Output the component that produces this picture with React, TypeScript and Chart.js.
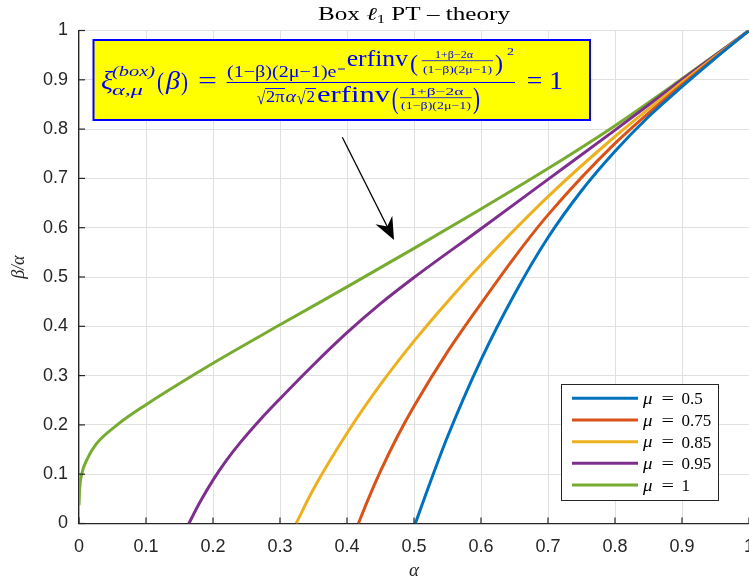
import React, { useEffect, useRef } from "react";
import { Chart, registerables } from "chart.js";

Chart.register(...registerables);

// ---------- data ----------
const seriesLabels = ["μ = 0.5", "μ = 0.75", "μ = 0.85", "μ = 0.95", "μ = 1"];
const seriesColors = ["#0072BD", "#D95319", "#EDB120", "#7E2F8E", "#77AC30"];

const alphaMu050 = [0.502, 0.52, 0.55, 0.6, 0.65, 0.7, 0.75, 0.8, 0.85, 0.9, 0.95, 1.0];
const ratioMu050 = [0, 0.068, 0.176, 0.332, 0.465, 0.58, 0.675, 0.755, 0.825, 0.886, 0.944, 1.0];

const alphaMu075 = [0.417, 0.43, 0.45, 0.475, 0.5, 0.55, 0.6, 0.65, 0.7, 0.8, 0.9, 1.0];
const ratioMu075 = [0, 0.044, 0.106, 0.176, 0.238, 0.348, 0.446, 0.54, 0.626, 0.771, 0.89, 1.0];

const alphaMu085 = [0.324, 0.35, 0.4, 0.45, 0.5, 0.55, 0.6, 0.7, 0.8, 0.9, 1.0];
const ratioMu085 = [0, 0.07, 0.183, 0.282, 0.37, 0.45, 0.525, 0.663, 0.785, 0.895, 1.0];

const alphaMu095 = [0.164, 0.18, 0.2, 0.22, 0.24, 0.27, 0.3, 0.35, 0.4, 0.45, 0.5, 0.6, 0.7, 0.8, 0.9, 1.0];
const ratioMu095 = [0, 0.042, 0.088, 0.128, 0.163, 0.21, 0.253, 0.322, 0.387, 0.446, 0.499, 0.598, 0.698, 0.798, 0.9, 1.0];

const alphaMu100 = [0, 0.001, 0.004, 0.012, 0.025, 0.057, 0.1, 0.15, 0.2, 0.3, 0.4, 0.5, 0.6, 0.7, 0.8, 0.9, 1.0];
const ratioMu100 = [0.037, 0.07, 0.1, 0.13, 0.16, 0.2, 0.241, 0.284, 0.325, 0.403, 0.48, 0.558, 0.638, 0.72, 0.807, 0.902, 1.0];

const seriesAlpha = [alphaMu050, alphaMu075, alphaMu085, alphaMu095, alphaMu100];
const seriesRatio = [ratioMu050, ratioMu075, ratioMu085, ratioMu095, ratioMu100];

const tickValues = [0, 0.1, 0.2, 0.3, 0.4, 0.5, 0.6, 0.7, 0.8, 0.9, 1];

const titleText = ["Box ", "ℓ", "1", " PT – theory"];
const xLabel = "α";
const yLabel = "β/α";

const SERIF = '"Liberation Serif", "DejaVu Serif", serif';
const AX = "#262626";

function fitText(ctx: CanvasRenderingContext2D, text: string, x0: number, x1: number, baseline: number, font: string) {
  ctx.font = font;
  const w = ctx.measureText(text).width;
  const sx = w > 0 ? (x1 - x0) / w : 1;
  ctx.save();
  ctx.translate(x0, baseline);
  ctx.scale(sx, 1);
  ctx.textAlign = "left";
  ctx.textBaseline = "alphabetic";
  ctx.fillText(text, 0, 0);
  ctx.restore();
}

function hline(ctx: CanvasRenderingContext2D, x0: number, x1: number, y: number, w = 1) {
  ctx.beginPath();
  ctx.lineWidth = w;
  ctx.moveTo(x0, y);
  ctx.lineTo(x1, y);
  ctx.stroke();
}

const decorPlugin = {
  id: "decor",
  afterDraw(chart: any) {
    const ctx: CanvasRenderingContext2D = chart.ctx;
    const xs = chart.scales.x;
    const ys = chart.scales.y;
    const ca = chart.chartArea;
    ctx.save();

    // inner tick marks
    ctx.strokeStyle = AX;
    ctx.lineWidth = 1.2;
    tickValues.forEach((v) => {
      const px = xs.getPixelForValue(v);
      ctx.beginPath();
      ctx.moveTo(px, ca.bottom);
      ctx.lineTo(px, ca.bottom - 6);
      ctx.stroke();
      const py = ys.getPixelForValue(v);
      ctx.beginPath();
      ctx.moveTo(ca.left, py);
      ctx.lineTo(ca.left + 6, py);
      ctx.stroke();
    });

    // title
    ctx.fillStyle = "#000";
    ctx.textBaseline = "alphabetic";
    ctx.textAlign = "left";
    const tf = `18px ${SERIF}`;
    const tfi = `italic 18px ${SERIF}`;
    const tfs = `12px ${SERIF}`;
    ctx.font = tf;
    const w0 = ctx.measureText(titleText[0]).width;
    ctx.font = tfi;
    const w1 = ctx.measureText(titleText[1]).width;
    ctx.font = tfs;
    const w2 = ctx.measureText(titleText[2]).width;
    ctx.font = tf;
    const w3 = ctx.measureText(titleText[3]).width;
    const tot = w0 + w1 + w2 + w3;
    const target = 192;
    const s = target / tot;
    const cx = (ca.left + ca.right) / 2;
    ctx.save();
    ctx.translate(cx - target / 2, 19.5);
    ctx.scale(s, 1);
    ctx.font = tf;
    ctx.fillText(titleText[0], 0, 0);
    ctx.font = tfi;
    ctx.fillText(titleText[1], w0, 0);
    ctx.font = tfs;
    ctx.fillText(titleText[2], w0 + w1, 3);
    ctx.font = tf;
    ctx.fillText(titleText[3], w0 + w1 + w2, 0);
    ctx.restore();

    // axis labels
    ctx.fillStyle = AX;
    ctx.font = `italic 19px ${SERIF}`;
    ctx.textAlign = "center";
    ctx.fillText(xLabel, cx, 576);
    ctx.save();
    ctx.translate(24, ys.getPixelForValue(0.52));
    ctx.rotate(-Math.PI / 2);
    ctx.font = `italic 18px ${SERIF}`;
    ctx.fillText(yLabel, 0, 0);
    ctx.restore();

    // annotation box
    ctx.fillStyle = "#FFFF00";
    ctx.fillRect(93.5, 40, 496.5, 80);
    ctx.strokeStyle = "#0000FF";
    ctx.lineWidth = 2;
    ctx.strokeRect(93.5, 40, 496.5, 80);

    ctx.fillStyle = "#0000FF";
    ctx.strokeStyle = "#0000FF";
    fitText(ctx, "ξ", 101, 113, 89, `italic 26px ${SERIF}`);
    fitText(ctx, "(box)", 112, 155, 76, `italic 15px ${SERIF}`);
    fitText(ctx, "α,μ", 112, 143, 95, `italic 14px ${SERIF}`);
    fitText(ctx, "(", 157, 164, 90, `25px ${SERIF}`);
    fitText(ctx, "β", 166, 180, 89, `italic 25px ${SERIF}`);
    fitText(ctx, ")", 181, 188, 90, `25px ${SERIF}`);
    fitText(ctx, "=", 198, 217, 89, `25px ${SERIF}`);
    // main fraction
    hline(ctx, 226.7, 515, 82.5, 1.2);
    fitText(ctx, "(1−β)(2μ−1)e", 227, 336.5, 77, `16px ${SERIF}`);
    hline(ctx, 338, 345, 69, 1);
    fitText(ctx, "erfinv", 346.7, 408, 65.5, `24px ${SERIF}`);
    fitText(ctx, "(", 410, 418, 71, `24px ${SERIF}`);
    fitText(ctx, "1+β−2α", 435, 473, 58, `10px ${SERIF}`);
    hline(ctx, 421.7, 493, 60.7, 0.8);
    fitText(ctx, "(1−β)(2μ−1)", 423, 492, 72.5, `10px ${SERIF}`);
    fitText(ctx, ")", 495, 503, 71, `24px ${SERIF}`);
    fitText(ctx, "2", 507, 514, 55, `11px ${SERIF}`);
    // denominator
    fitText(ctx, "√", 256.7, 265.3, 104, `18px ${SERIF}`);
    hline(ctx, 265, 285, 88.5, 0.9);
    fitText(ctx, "2π", 266, 284.5, 102, `16px ${SERIF}`);
    fitText(ctx, "α", 285.5, 296, 102, `italic 16px ${SERIF}`);
    fitText(ctx, "√", 296.7, 305.5, 104, `18px ${SERIF}`);
    hline(ctx, 305.3, 316, 88.5, 0.9);
    fitText(ctx, "2", 306.5, 315, 102, `16px ${SERIF}`);
    fitText(ctx, "erfinv", 317, 390, 102, `24px ${SERIF}`);
    fitText(ctx, "(", 391.7, 398.5, 108, `29px ${SERIF}`);
    fitText(ctx, "1+β−2α", 408.3, 463.3, 95, `10px ${SERIF}`);
    hline(ctx, 400, 471.7, 97.7, 0.8);
    fitText(ctx, "(1−β)(2μ−1)", 401, 471, 108.5, `10px ${SERIF}`);
    fitText(ctx, ")", 473, 480, 108, `29px ${SERIF}`);
    fitText(ctx, "= 1", 526.7, 563, 89, `25px ${SERIF}`);

    // arrow
    const ax0 = 342.3, ay0 = 137.3, ax1 = 394, ay1 = 240;
    const len = Math.hypot(ax1 - ax0, ay1 - ay0);
    const dx = (ax1 - ax0) / len, dy = (ay1 - ay0) / len;
    const nx = -dy, ny = dx;
    ctx.strokeStyle = "#000";
    ctx.fillStyle = "#000";
    ctx.lineWidth = 1.3;
    ctx.beginPath();
    ctx.moveTo(ax0, ay0);
    ctx.lineTo(ax1 - dx * 14, ay1 - dy * 14);
    ctx.stroke();
    ctx.beginPath();
    ctx.moveTo(ax1, ay1);
    ctx.lineTo(ax1 - dx * 22.5 + nx * 9.4, ay1 - dy * 22.5 + ny * 9.4);
    ctx.lineTo(ax1 - dx * 15, ay1 - dy * 15);
    ctx.lineTo(ax1 - dx * 22.5 - nx * 9.4, ay1 - dy * 22.5 - ny * 9.4);
    ctx.closePath();
    ctx.fill();

    // legend
    const lx0 = 561, ly0 = 384, lx1 = 718, ly1 = 500;
    ctx.fillStyle = "#fff";
    ctx.fillRect(lx0, ly0, lx1 - lx0, ly1 - ly0);
    ctx.strokeStyle = AX;
    ctx.lineWidth = 1;
    ctx.strokeRect(lx0 + 0.5, ly0 + 0.5, lx1 - lx0, ly1 - ly0);
    const rowY = [398.3, 420, 441.7, 463.3, 485];
    chart.data.datasets.forEach((ds: any, i: number) => {
      const y = rowY[i];
      ctx.strokeStyle = ds.borderColor;
      ctx.lineWidth = 3;
      ctx.beginPath();
      ctx.moveTo(572, y);
      ctx.lineTo(638, y);
      ctx.stroke();
      const parts = String(ds.label).split("=");
      ctx.fillStyle = "#000";
      ctx.textAlign = "left";
      fitText(ctx, parts[0].trim(), 643, 652.5, y + 5.5, `italic 17px ${SERIF}`);
      fitText(ctx, "=", 661.5, 674, y + 5.5, `17px ${SERIF}`);
      ctx.font = `17px ${SERIF}`;
      ctx.fillText(parts[1].trim(), 681.5, y + 6);
    });

    ctx.restore();
  },
};

export default function App() {
  const canvasRef = useRef<HTMLCanvasElement | null>(null);

  useEffect(() => {
    const canvas = canvasRef.current;
    if (!canvas) return;
    const datasets = seriesLabels.map((label, i) => ({
      label,
      data: seriesAlpha[i].map((a, j) => ({ x: a, y: seriesRatio[i][j] })),
      borderColor: seriesColors[i],
      backgroundColor: seriesColors[i],
      borderWidth: 3,
      pointRadius: 0,
      fill: false,
      cubicInterpolationMode: "monotone" as const,
    }));
    const tickFont = { family: '"Liberation Sans", Arial, sans-serif', size: 18 };
    const chart = new Chart(canvas, {
      type: "line",
      data: { datasets },
      options: {
        animation: false,
        responsive: false,
        devicePixelRatio: 1,
        layout: { padding: { top: 30.5, left: 0, right: 0, bottom: 0 }, autoPadding: false } as any,
        plugins: { legend: { display: false }, title: { display: false }, tooltip: { enabled: false } },
        scales: {
          x: {
            type: "linear",
            min: 0,
            max: 1,
            afterFit: (s: any) => {
              s.height = 57.5;
              s.paddingLeft = 0;
              s.paddingRight = 0;
            },
            afterBuildTicks: (s: any) => { s.ticks = tickValues.map((v) => ({ value: v })); },
            ticks: {
              font: tickFont,
              color: AX,
              padding: 13,
              maxRotation: 0,
              autoSkip: false,
              callback: (v: any) => String(Number(Number(v).toFixed(1))),
            },
            grid: { color: "#e0e0e0", lineWidth: 1, drawTicks: false },
            border: { color: AX, width: 1.3 },
          },
          y: {
            type: "linear",
            min: 0,
            max: 1,
            afterFit: (s: any) => {
              s.width = 79;
              s.paddingTop = 0;
              s.paddingBottom = 0;
            },
            afterBuildTicks: (s: any) => { s.ticks = tickValues.map((v) => ({ value: v })); },
            ticks: {
              font: tickFont,
              color: AX,
              padding: 11,
              autoSkip: false,
              callback: (v: any) => String(Number(Number(v).toFixed(1))),
            },
            grid: { color: "#e0e0e0", lineWidth: 1, drawTicks: false },
            border: { color: AX, width: 1.3 },
          },
        },
      },
      plugins: [decorPlugin],
    });
    return () => chart.destroy();
  }, []);

  return (
    <div style={{ position: "absolute", left: 0, top: 0, width: 749, height: 581, background: "#fff" }}>
      <canvas ref={canvasRef} width={749} height={581} style={{ display: "block", width: 749, height: 581 }} />
    </div>
  );
}
